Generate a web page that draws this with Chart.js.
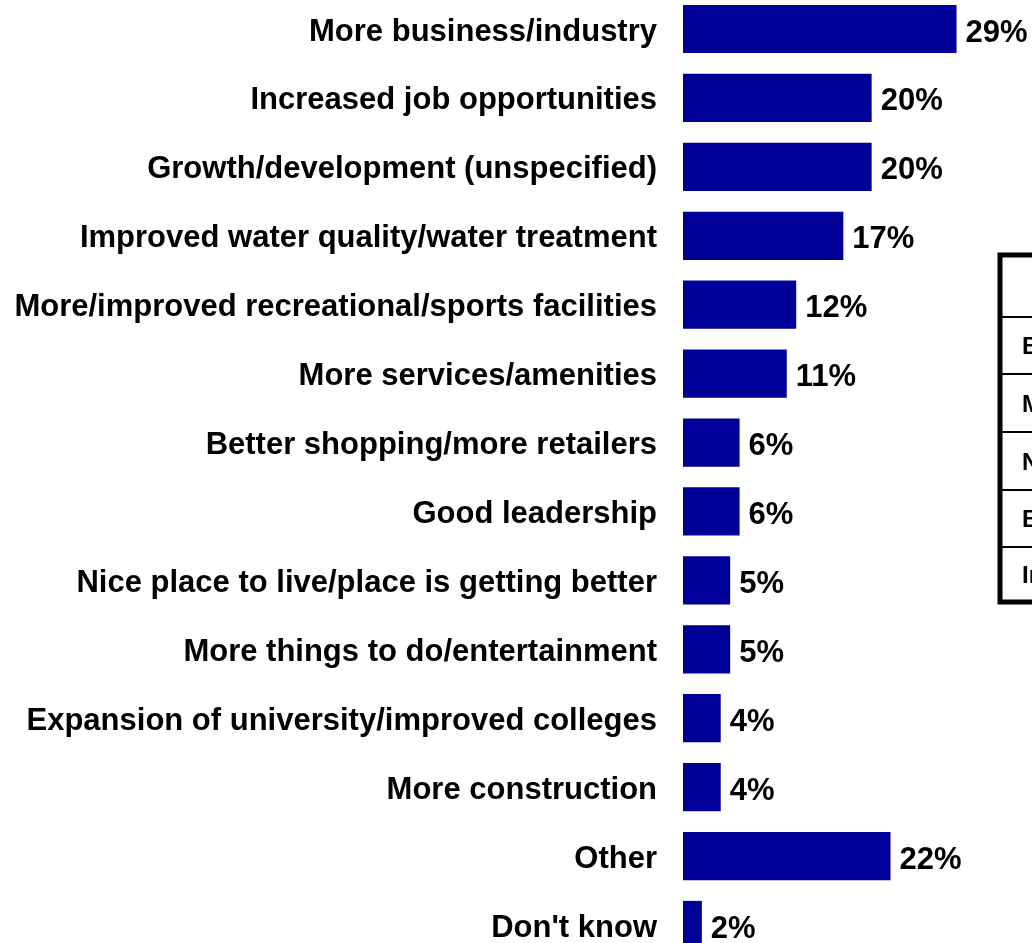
<!DOCTYPE html>
<html>
<head>
<meta charset="utf-8">
<script src="https://cdn.jsdelivr.net/npm/chart.js@4"></script>
<style>
  html, body { margin: 0; padding: 0; background: #ffffff; }
  #wrap { position: relative; width: 1032px; height: 943px; }
</style>
</head>
<body>
<div id="wrap"><canvas id="c"></canvas></div>
<script>
const categories = [
  "More business/industry",
  "Increased job opportunities",
  "Growth/development (unspecified)",
  "Improved water quality/water treatment",
  "More/improved recreational/sports facilities",
  "More services/amenities",
  "Better shopping/more retailers",
  "Good leadership",
  "Nice place to live/place is getting better",
  "More things to do/entertainment",
  "Expansion of university/improved colleges",
  "More construction",
  "Other",
  "Don't know"
];
const values = [29, 20, 20, 17, 12, 11, 6, 6, 5, 5, 4, 4, 22, 2];
const valueLabels = values.map(v => v + "%");
const tableRows = ["B", "M", "N", "B", "In"];

const FONT = "'Liberation Sans', Arial, Helvetica, sans-serif";

const valueLabelPlugin = {
  id: 'valueLabels',
  afterDatasetsDraw(chart) {
    const ctx = chart.ctx;
    const meta = chart.getDatasetMeta(0);
    ctx.save();
    ctx.font = "bold 31px " + FONT;
    ctx.fillStyle = "#000000";
    ctx.textAlign = "left";
    ctx.textBaseline = "middle";
    meta.data.forEach((bar, i) => {
      ctx.fillText(valueLabels[i], bar.x + 9, bar.y + 4);
    });
    ctx.restore();
  }
};

const tablePlugin = {
  id: 'sideTable',
  afterDraw(chart) {
    const ctx = chart.ctx;
    const left = 1000, top = 255, bottom = 602, right = 1040;
    const lines = [317, 374, 432, 490, 547];
    ctx.save();
    ctx.strokeStyle = "#000000";
    ctx.lineWidth = 2;
    lines.forEach(y => {
      ctx.beginPath();
      ctx.moveTo(left, y);
      ctx.lineTo(right, y);
      ctx.stroke();
    });
    ctx.lineWidth = 5;
    ctx.beginPath();
    ctx.moveTo(right, top);
    ctx.lineTo(left, top);
    ctx.lineTo(left, bottom);
    ctx.lineTo(right, bottom);
    ctx.stroke();
    ctx.font = "bold 24px " + FONT;
    ctx.fillStyle = "#000000";
    ctx.textAlign = "left";
    ctx.textBaseline = "middle";
    const bounds = lines.concat([bottom]);
    tableRows.forEach((t, i) => {
      const y = (bounds[i] + bounds[i + 1]) / 2 + 2;
      ctx.fillText(t, 1022, y);
    });
    ctx.restore();
  }
};

new Chart(document.getElementById('c'), {
  type: 'bar',
  data: {
    labels: categories,
    datasets: [{
      data: values,
      backgroundColor: "#000099",
      borderWidth: 0,
      barPercentage: 0.7,
      categoryPercentage: 1.0,
      clip: false
    }]
  },
  options: {
    indexAxis: 'y',
    responsive: true,
    maintainAspectRatio: false,
    animation: false,
    layout: { padding: { top: 29, bottom: 18, left: 0, right: 0 } },
    plugins: {
      legend: { display: false },
      tooltip: { enabled: false },
      title: { display: false }
    },
    scales: {
      x: {
        display: false,
        min: 0,
        max: 37
      },
      y: {
        type: 'category',
        offset: false,
        grid: { display: false, drawTicks: false },
        border: { display: false },
        afterFit(scale) {
          scale.width = 683;
          scale.paddingTop = 0;
          scale.paddingBottom = 0;
        },
        ticks: {
          padding: 26,
          labelOffset: 3,
          color: "#000000",
          font: { family: FONT, size: 31, weight: 'bold' },
          autoSkip: false
        }
      }
    }
  },
  plugins: [valueLabelPlugin, tablePlugin]
});
</script>
</body>
</html>
